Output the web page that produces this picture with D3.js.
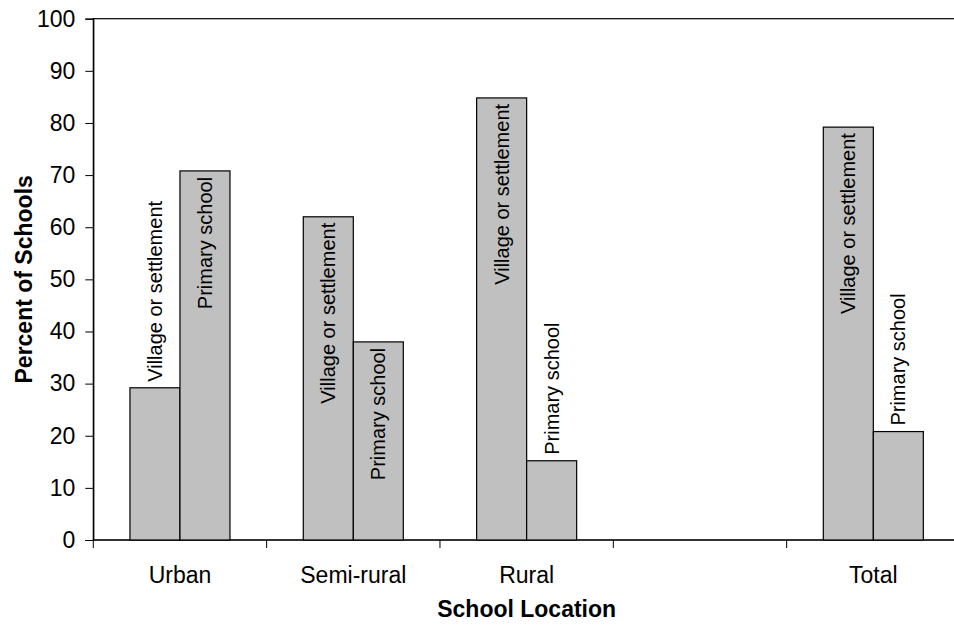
<!DOCTYPE html>
<html>
<head>
<meta charset="utf-8">
<script src="https://cdn.jsdelivr.net/npm/d3@7"></script>
<style>
  html, body { margin: 0; padding: 0; background: #fff; overflow: hidden; }
  svg { display: block; font-family: "Liberation Sans", Arial, sans-serif; }
</style>
</head>
<body>
<svg id="chart" width="954" height="627"></svg>
<script>
// School location groups (the blank slot is a spacer before Total)
const categories = ["Urban", "Semi-rural", "Rural", "", "Total"];
const series = ["Village or settlement", "Primary school"];
const villageValues = [29.2, 62.0, 84.8, null, 79.2];
const primaryValues = [70.8, 38.0, 15.2, null, 20.8];
const yTicks = [0, 10, 20, 30, 40, 50, 60, 70, 80, 90, 100];

const width = 954, height = 627;
const margin = { top: 18.7, right: -6, bottom: 87, left: 93.3 };
const plotW = width - margin.left - margin.right;
const plotH = height - margin.top - margin.bottom;

const svg = d3.select("#chart");
const g = svg.append("g").attr("transform", `translate(${margin.left},${margin.top})`);

// category slots keyed by index so the blank slot stays unique
const keys = categories.map((c, i) => i);
const x0 = d3.scaleBand().domain(keys).range([0, plotW]).paddingInner(0).paddingOuter(0);
const x1 = d3.scaleBand().domain(series).range([0, x0.bandwidth()]).paddingInner(0).paddingOuter(0.733);
const y = d3.scaleLinear().domain([0, 100]).range([plotH, 0]);

// plot frame
g.append("rect")
  .attr("x", 0).attr("y", 0)
  .attr("width", plotW).attr("height", plotH)
  .attr("fill", "none").attr("stroke", "#000").attr("stroke-width", 1.2);

// y axis
const yAxis = g.append("g")
  .call(d3.axisLeft(y).tickValues(yTicks).tickSize(8).tickPadding(10).tickFormat(d3.format("d")));
yAxis.select(".domain").attr("stroke", "#000").attr("stroke-width", 1.2);
yAxis.selectAll(".tick line").attr("stroke", "#000");
yAxis.selectAll(".tick text")
  .attr("font-family", "Liberation Sans, Arial, sans-serif")
  .attr("font-size", 23).attr("fill", "#000");

// x axis: ticks on slot boundaries, labels at slot centres
const boundaries = keys.map(k => x0(k)).concat([plotW]);
const xAxis = g.append("g").attr("transform", `translate(0,${plotH})`);
xAxis.append("line")
  .attr("x1", 0).attr("x2", plotW).attr("y1", 0).attr("y2", 0)
  .attr("stroke", "#000").attr("stroke-width", 1.2);
xAxis.selectAll("line.tick")
  .data(boundaries).join("line")
  .attr("class", "tick")
  .attr("x1", d => d).attr("x2", d => d)
  .attr("y1", 0).attr("y2", 8)
  .attr("stroke", "#000");
xAxis.selectAll("text.cat")
  .data(keys).join("text")
  .attr("class", "cat")
  .attr("x", k => x0(k) + x0.bandwidth() / 2)
  .attr("y", 43)
  .attr("text-anchor", "middle")
  .attr("font-size", 23).attr("fill", "#000")
  .text(k => categories[k]);

// bars
const rows = [];
keys.forEach(k => {
  [villageValues[k], primaryValues[k]].forEach((v, si) => {
    if (v != null) rows.push({ k, s: series[si], v });
  });
});

const bar = g.selectAll("g.bar").data(rows).join("g").attr("class", "bar");
bar.append("rect")
  .attr("x", d => x0(d.k) + x1(d.s))
  .attr("y", d => y(d.v))
  .attr("width", x1.bandwidth())
  .attr("height", d => plotH - y(d.v))
  .attr("fill", "#c0c0c0")
  .attr("stroke", "#000").attr("stroke-width", 1.2);

// vertical series labels: inside the bar when it fits, otherwise above it
bar.append("text")
  .attr("font-size", 20).attr("fill", "#000")
  .attr("dominant-baseline", "central")
  .text(d => d.s)
  .each(function (d) {
    const len = this.getComputedTextLength();
    const cx = x0(d.k) + x1(d.s) + x1.bandwidth() / 2;
    const top = y(d.v);
    const inside = (plotH - top) > len + 14;
    const sel = d3.select(this);
    if (inside) {
      sel.attr("text-anchor", "end")
        .attr("transform", `translate(${cx},${top + 6}) rotate(-90)`);
    } else {
      sel.attr("text-anchor", "start")
        .attr("transform", `translate(${cx},${top - 6}) rotate(-90)`);
    }
  });

// axis titles
svg.append("text")
  .attr("transform", `translate(32,${margin.top + plotH / 2}) rotate(-90)`)
  .attr("text-anchor", "middle")
  .attr("font-size", 23).attr("font-weight", "bold").attr("fill", "#000")
  .text("Percent of Schools");

svg.append("text")
  .attr("x", margin.left + plotW / 2)
  .attr("y", 617)
  .attr("text-anchor", "middle")
  .attr("font-size", 23).attr("font-weight", "bold").attr("fill", "#000")
  .text("School Location");
</script>
</body>
</html>
